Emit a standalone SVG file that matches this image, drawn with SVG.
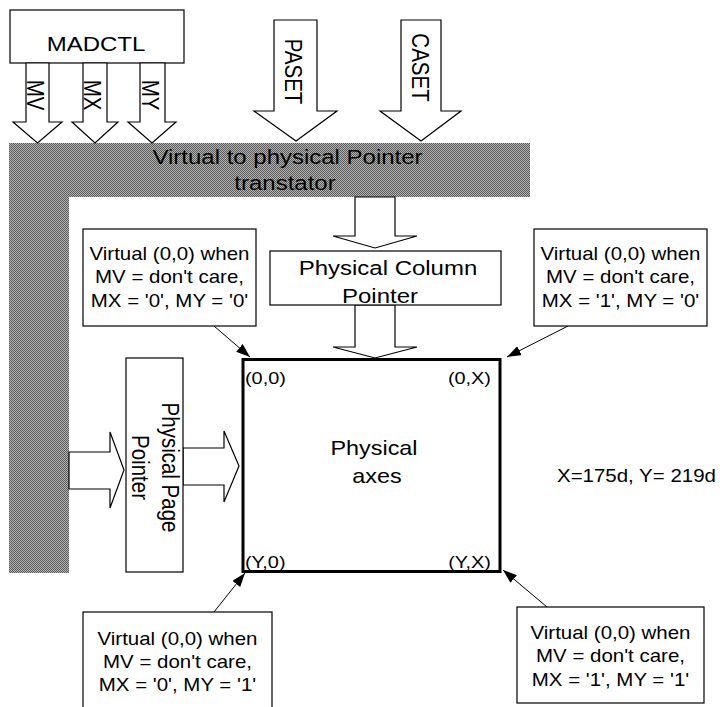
<svg xmlns="http://www.w3.org/2000/svg" width="720" height="707" viewBox="0 0 720 707">
<style>
.t{font-family:"Liberation Sans",Arial,sans-serif;font-size:20.5px;fill:#000}
.c{font-family:"Liberation Sans",Arial,sans-serif;font-size:17.5px;fill:#000;text-anchor:middle}
.k{font-family:"Liberation Sans",Arial,sans-serif;font-size:17px;fill:#000}
.m{text-anchor:middle}
.e{text-anchor:end}
.box{fill:#fff;stroke:#000;stroke-width:1.2}
.blk{fill:#fff;stroke:#000;stroke-width:1.2;stroke-linejoin:miter}
.ln{fill:none;stroke:#000;stroke-width:1}
</style>
<defs>
<pattern id="dots" width="2" height="2" patternUnits="userSpaceOnUse">
<rect width="2" height="2" fill="#b4b4b4"/>
<rect width="1" height="1" fill="#5a5a5a"/>
<rect x="1" y="1" width="1" height="1" fill="#5a5a5a"/>
</pattern>
<marker id="ah" viewBox="0 0 14 10" refX="14" refY="5" markerWidth="14" markerHeight="10" markerUnits="userSpaceOnUse" orient="auto">
<path d="M0,0 L14,5 L0,10 Z" fill="#000"/>
</marker>
</defs>
<rect width="720" height="707" fill="#fff"/>

<g id="translator">
<path d="M9,143 H530 V197 H69 V573 H9 Z" fill="url(#dots)"/>
<text class="t m" transform="translate(287.5,164) scale(1.17,1)">Virtual to physical Pointer</text>
<text class="t m" transform="translate(285,190) scale(1.17,1)">transtator</text>
</g>

<g id="madctl">
<rect class="box" x="10" y="10" width="174" height="53"/>
<text class="t m" transform="translate(96,51) scale(1.17,1)">MADCTL</text>
</g>

<g id="mv">
<polygon class="blk" points="26,63 26,122 13,122 37.5,143 62,122 49,122 49,63"/>
<text class="t m" transform="translate(27,95) scale(1.17,1) rotate(90)">MV</text>
</g>
<g id="mx">
<polygon class="blk" points="83,63 83,122 72,122 95,143 118,122 107,122 107,63"/>
<text class="t m" transform="translate(84,95) scale(1.17,1) rotate(90)">MX</text>
</g>
<g id="my">
<polygon class="blk" points="140,63 140,122 128,122 152,143 176,122 165,122 165,63"/>
<text class="t m" transform="translate(142,95) scale(1.17,1) rotate(90)">MY</text>
</g>

<g id="paset">
<polygon class="blk" points="274,20 274,111 254,111 296,141 337,111 317,111 317,20"/>
<text class="t m" transform="translate(285,71.5) scale(1.17,1) rotate(90)">PASET</text>
</g>
<g id="caset">
<polygon class="blk" points="401,20 401,111 380,111 421,141 461,111 441,111 441,20"/>
<text class="t m" transform="translate(412,67.5) scale(1.17,1) rotate(90)">CASET</text>
</g>

<g id="connectors">
<polygon class="blk" points="355,197 355,236 333,236 375,248 417,236 395,236 395,197"/>
<polygon class="blk" points="355,305 355,347 333,347 375,358 417,347 395,347 395,305"/>
<polygon class="blk" points="69,452 110,452 110,432 124,470 110,508 110,489 69,489"/>
<polygon class="blk" points="183,448 224,448 224,431 239,466 224,502 224,485 183,485"/>
<line class="ln" x1="214" y1="326" x2="250" y2="357" marker-end="url(#ah)"/>
<line class="ln" x1="568" y1="326" x2="507" y2="357" marker-end="url(#ah)"/>
<line class="ln" x1="214" y1="612" x2="245" y2="573" marker-end="url(#ah)"/>
<line class="ln" x1="547" y1="607" x2="503" y2="570" marker-end="url(#ah)"/>
</g>

<g id="column-pointer">
<rect class="box" x="270" y="251" width="231" height="54"/>
<text class="t m" transform="translate(388,275) scale(1.17,1)">Physical Column</text>
<text class="t m" transform="translate(380,303) scale(1.17,1)">Pointer</text>
</g>

<g id="page-pointer">
<rect class="box" x="126" y="358" width="57" height="214"/>
<text class="t m" transform="translate(162,467.5) scale(1.17,1) rotate(90)"><tspan x="0" y="0">Physical Page</tspan><tspan x="0" y="25.6">Pointer</tspan></text>
</g>

<g id="axes">
<rect x="243" y="359.5" width="257" height="212" fill="#fff" stroke="#000" stroke-width="3"/>
<text class="k" transform="translate(245,384) scale(1.17,1)">(0,0)</text>
<text class="k e" transform="translate(491,384) scale(1.17,1)">(0,X)</text>
<text class="k" transform="translate(245,568) scale(1.17,1)">(Y,0)</text>
<text class="k e" transform="translate(491,568) scale(1.17,1)">(Y,X)</text>
<text class="t m" transform="translate(374,455) scale(1.17,1)" style="font-size:20px">Physical</text>
<text class="t m" transform="translate(377,483) scale(1.17,1)" style="font-size:20px">axes</text>
</g>

<g id="size-note">
<text class="k" transform="translate(557,482) scale(1.17,1)" style="font-size:17.5px">X=175d, Y= 219d</text>
</g>

<g id="note-00">
<rect class="box" x="83" y="229" width="173" height="97"/>
<text class="c" transform="translate(169.5,260) scale(1.17,1)">Virtual (0,0) when</text>
<text class="c" transform="translate(169.5,283) scale(1.17,1)">MV = don't care,</text>
<text class="c" transform="translate(169.5,307) scale(1.17,1)">MX = '0', MY = '0'</text>
</g>
<g id="note-10">
<rect class="box" x="534" y="229" width="173" height="97"/>
<text class="c" transform="translate(620.5,260) scale(1.17,1)">Virtual (0,0) when</text>
<text class="c" transform="translate(620.5,283) scale(1.17,1)">MV = don't care,</text>
<text class="c" transform="translate(620.5,307) scale(1.17,1)">MX = '1', MY = '0'</text>
</g>
<g id="note-01">
<rect class="box" x="83" y="612" width="189" height="100"/>
<text class="c" transform="translate(177.5,645) scale(1.17,1)">Virtual (0,0) when</text>
<text class="c" transform="translate(177.5,668) scale(1.17,1)">MV = don't care,</text>
<text class="c" transform="translate(177.5,691) scale(1.17,1)">MX = '0', MY = '1'</text>
</g>
<g id="note-11">
<rect class="box" x="517" y="607" width="187" height="96"/>
<text class="c" transform="translate(610.5,639) scale(1.17,1)">Virtual (0,0) when</text>
<text class="c" transform="translate(610.5,662) scale(1.17,1)">MV = don't care,</text>
<text class="c" transform="translate(610.5,686) scale(1.17,1)">MX = '1', MY = '1'</text>
</g>
</svg>
